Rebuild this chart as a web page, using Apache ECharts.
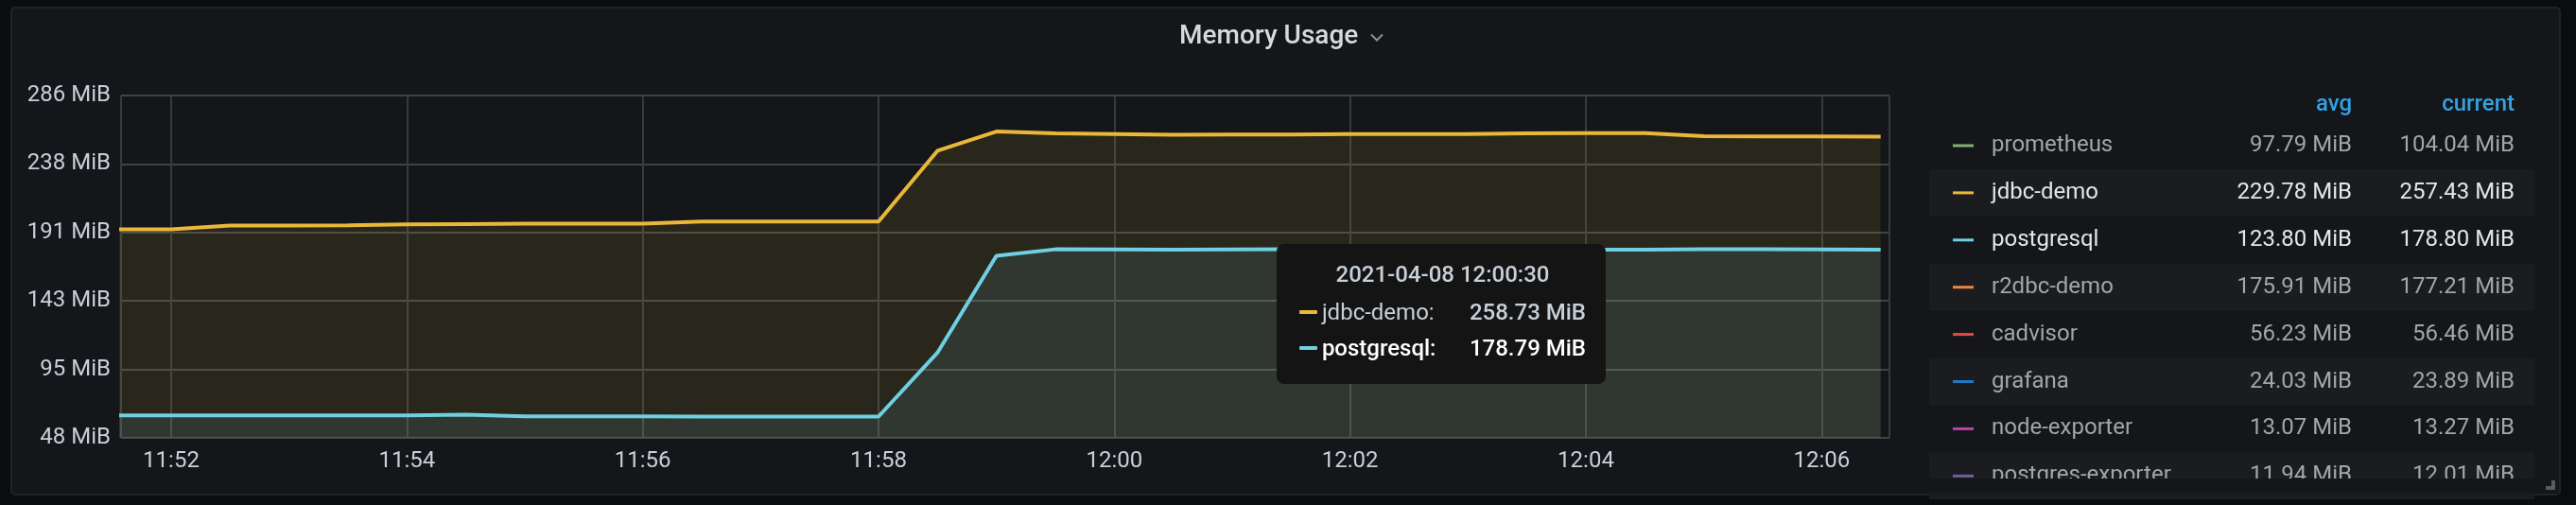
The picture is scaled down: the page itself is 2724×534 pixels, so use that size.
<!DOCTYPE html>
<html>
<head>
<meta charset="utf-8">
<script src="https://cdn.jsdelivr.net/npm/echarts@6/dist/echarts.min.js"></script>
<style>
  html, body { margin: 0; padding: 0; background: #0b0c0e; }
  #chart { width: 2724px; height: 534px; }
</style>
</head>
<body>
<div id="chart"></div>
<script>
// ---------------- DATA ----------------
const chartTitle = 'Memory Usage';
const rangeStart = '11:51:34.5';
const rangeEnd = '12:06:34.5';

const times = [
  '11:51:30','11:52:00','11:52:30','11:53:00','11:53:30','11:54:00','11:54:30','11:55:00',
  '11:55:30','11:56:00','11:56:30','11:57:00','11:57:30','11:58:00','11:58:30','11:59:00',
  '11:59:30','12:00:00','12:00:30','12:01:00','12:01:30','12:02:00','12:02:30','12:03:00',
  '12:03:30','12:04:00','12:04:30','12:05:00','12:05:30','12:06:00','12:06:30'
];

const jdbcDemo = [
  192.9, 192.9, 195.6, 195.6, 195.7, 196.4, 196.6, 196.8,
  196.8, 196.9, 198.3, 198.4, 198.4, 198.4, 247.6, 261.0,
  259.8, 259.3, 258.73, 259.0, 259.0, 259.2, 259.3, 259.3,
  259.8, 259.9, 260.0, 257.8, 257.6, 257.6, 257.43
];

const postgresql = [
  63.4, 63.4, 63.4, 63.4, 63.4, 63.4, 63.8, 62.6,
  62.6, 62.6, 62.5, 62.5, 62.5, 62.5, 107.0, 174.5,
  179.0, 178.9, 178.79, 178.9, 179.0, 179.0, 179.0, 178.9,
  178.9, 178.8, 178.8, 179.0, 179.0, 178.9, 178.80
];

// y ticks: 50 MB steps expressed in MiB (50e6 / 2^20)
const yTickStepMiB = 50e6 / 1048576;
const yMinMiB = yTickStepMiB * 1;
const yMaxMiB = yTickStepMiB * 6;

const legendNames   = ['prometheus','jdbc-demo','postgresql','r2dbc-demo','cadvisor','grafana','node-exporter','postgres-exporter'];
const legendAvg     = ['97.79','229.78','123.80','175.91','56.23','24.03','13.07','11.94'];
const legendCurrent = ['104.04','257.43','178.80','177.21','56.46','23.89','13.27','12.01'];
const legendVisible = [false, true, true, false, false, false, false, false];
const legendHeaders = ['avg', 'current'];
const unit = 'MiB';

const tooltipTime = '12:00:30';

// ---------------- STYLE ----------------
const palette = {
  'prometheus': '#7eb26d', 'jdbc-demo': '#eab839', 'postgresql': '#6ed0e0', 'r2dbc-demo': '#ef843c',
  'cadvisor': '#e24d42', 'grafana': '#1f78c1', 'node-exporter': '#ba43a9', 'postgres-exporter': '#705da0'
};
const FONT = 'Roboto, "Noto Sans", sans-serif';
const panelBg = '#141619';

function ts(t) {
  const [h, m, s] = t.split(':');
  const sec = parseFloat(s);
  const d = new Date(2021, 3, 8, parseInt(h, 10), parseInt(m, 10), Math.floor(sec));
  return d.getTime() + Math.round((sec - Math.floor(sec)) * 1000);
}
function pad(n) { return (n < 10 ? '0' : '') + n; }

const seriesDefs = [
  { name: 'jdbc-demo', values: jdbcDemo },
  { name: 'postgresql', values: postgresql }
];

const chart = echarts.init(document.getElementById('chart'), null, { renderer: 'canvas' });

// ---------- panel, title and legend table graphics ----------
const graphics = [];
graphics.push({
  type: 'rect', z: -100, silent: true,
  shape: { x: 12, y: 8, width: 2695, height: 515, r: 4 },
  style: { fill: panelBg, stroke: '#202226', lineWidth: 2 }
});
graphics.push({
  type: 'text', x: 1247, y: 39, silent: true,
  style: { text: chartTitle, fill: '#d8d9da', font: '500 28px ' + FONT,
           align: 'left', verticalAlign: 'middle', textAlign: 'left', textVerticalAlign: 'middle' }
});
graphics.push({
  type: 'polyline', silent: true,
  shape: { points: [[1450, 36.5], [1456, 42.5], [1462, 36.5]] },
  style: { stroke: '#8e8e8e', lineWidth: 2, fill: null }
});

const colAvgRight = 2487, colCurRight = 2659;
graphics.push({
  type: 'text', x: colAvgRight, y: 111, silent: true,
  style: { text: legendHeaders[0], fill: '#33a2e5', font: '500 24px ' + FONT,
           align: 'right', verticalAlign: 'middle', textAlign: 'right', textVerticalAlign: 'middle' }
});
graphics.push({
  type: 'text', x: colCurRight, y: 111, silent: true,
  style: { text: legendHeaders[1], fill: '#33a2e5', font: '500 24px ' + FONT,
           align: 'right', verticalAlign: 'middle', textAlign: 'right', textVerticalAlign: 'middle' }
});

legendNames.forEach((name, i) => {
  const cy = 154 + i * 49.9;
  if (i % 2 === 1) {
    graphics.push({
      type: 'rect', silent: true, z: 1,
      shape: { x: 2040, y: cy - 24.7, width: 640, height: 49.4 },
      style: { fill: '#1b1c20' }
    });
  }
  const txt = legendVisible[i] ? '#e4e5e6' : '#a3a5a8';
  graphics.push({
    type: 'rect', silent: true, z: 2,
    shape: { x: 2065, y: cy - 1.5, width: 22, height: 3 },
    style: { fill: palette[name] }
  });
  graphics.push({
    type: 'text', x: 2106, y: cy, silent: true, z: 2,
    style: { text: name, fill: txt, font: '400 24px ' + FONT,
             align: 'left', verticalAlign: 'middle', textAlign: 'left', textVerticalAlign: 'middle' }
  });
  graphics.push({
    type: 'text', x: colAvgRight, y: cy, silent: true, z: 2,
    style: { text: legendAvg[i] + ' ' + unit, fill: txt, font: '400 24px ' + FONT,
             align: 'right', verticalAlign: 'middle', textAlign: 'right', textVerticalAlign: 'middle' }
  });
  graphics.push({
    type: 'text', x: colCurRight, y: cy, silent: true, z: 2,
    style: { text: legendCurrent[i] + ' ' + unit, fill: txt, font: '400 24px ' + FONT,
             align: 'right', verticalAlign: 'middle', textAlign: 'right', textVerticalAlign: 'middle' }
  });
});
// clip legend scroll area
graphics.push({
  type: 'rect', silent: true, z: 5,
  shape: { x: 2030, y: 506, width: 670, height: 15 },
  style: { fill: panelBg }
});
// resize handle
graphics.push({
  type: 'polygon', silent: true, z: 6,
  shape: { points: [[2698, 508], [2702, 508], [2702, 518], [2692, 518], [2692, 514], [2698, 514]] },
  style: { fill: '#5a5b5e' }
});

const option = {
  backgroundColor: '#0b0c0e',
  animation: false,
  textStyle: { fontFamily: FONT },
  grid: { left: 128, right: 726, top: 101, bottom: 71, containLabel: false },
  graphic: graphics,
  tooltip: {
    trigger: 'axis',
    alwaysShowContent: true,
    triggerOn: 'none',
    transitionDuration: 0,
    axisPointer: { type: 'none' },
    backgroundColor: '#141414',
    borderWidth: 0,
    padding: [14, 21, 19, 24],
    extraCssText: 'box-shadow:none;border-radius:8px;width:303px;box-sizing:content-box;',
    position: function () { return [1350, 258]; },
    formatter: function (params) {
      const d = new Date(params[0].value[0]);
      const title = d.getFullYear() + '-' + pad(d.getMonth() + 1) + '-' + pad(d.getDate()) + ' ' +
        pad(d.getHours()) + ':' + pad(d.getMinutes()) + ':' + pad(d.getSeconds());
      const ff = FONT.replace(/"/g, "'");
      let html = '<div style="font:500 24px ' + ff + ';color:#c7d0d9;text-align:center;line-height:36px;height:36px;">' + title + '</div>';
      html += '<div style="height:3px"></div>';
      params.forEach(p => {
        const hovered = p.seriesName === 'postgresql';
        const col = hovered ? '#ffffff' : '#c7d0d9';
        const w = hovered ? 500 : 400;
        html += '<div style="display:flex;align-items:center;height:38px;line-height:38px;font-family:' + ff + ';font-size:24px;">' +
          '<span style="display:inline-block;width:19px;height:4px;border-radius:1px;background:' + p.color + ';margin-right:5px;"></span>' +
          '<span style="width:157px;color:' + col + ';font-weight:' + w + ';">' + p.seriesName + ':</span>' +
          '<span style="flex:1;text-align:right;color:' + col + ';font-weight:500;">' + p.value[1].toFixed(2) + ' ' + unit + '</span>' +
          '</div>';
      });
      return html;
    }
  },
  xAxis: {
    type: 'time',
    min: ts(rangeStart),
    max: ts(rangeEnd),
    splitNumber: 6,
    axisLine: { show: false },
    axisTick: { show: false },
    axisLabel: {
      color: '#c7d0d9', fontSize: 24, fontFamily: FONT, margin: 13,
      hideOverlap: false,
      formatter: function (v) { const d = new Date(v); return pad(d.getHours()) + ':' + pad(d.getMinutes()); }
    },
    splitLine: { show: true, lineStyle: { color: '#37393d', width: 2 } }
  },
  yAxis: {
    type: 'value',
    min: yMinMiB,
    max: yMaxMiB,
    interval: yTickStepMiB,
    axisLine: { show: false },
    axisTick: { show: false },
    axisLabel: {
      color: '#c7d0d9', fontSize: 24, fontFamily: FONT, margin: 11,
      formatter: function (v) { return Math.round(v) + ' ' + unit; }
    },
    splitLine: { show: true, lineStyle: { color: '#404246', width: 2 } }
  },
  series: seriesDefs.map(s => ({
    name: s.name,
    type: 'line',
    data: times.map((t, i) => [ts(t), s.values[i]]),
    showSymbol: false,
    symbol: 'none',
    clip: true,
    color: palette[s.name],
    lineStyle: { width: 4, color: palette[s.name] },
    areaStyle: { color: palette[s.name], opacity: 0.1 },
    emphasis: { disabled: true },
    z: 2
  }))
};

chart.setOption(option);

const tipIndex = times.indexOf(tooltipTime);
function showTip() {
  chart.dispatchAction({ type: 'showTip', seriesIndex: 0, dataIndex: tipIndex });
}
showTip();
setTimeout(showTip, 50);
setTimeout(showTip, 300);
</script>
</body>
</html>
